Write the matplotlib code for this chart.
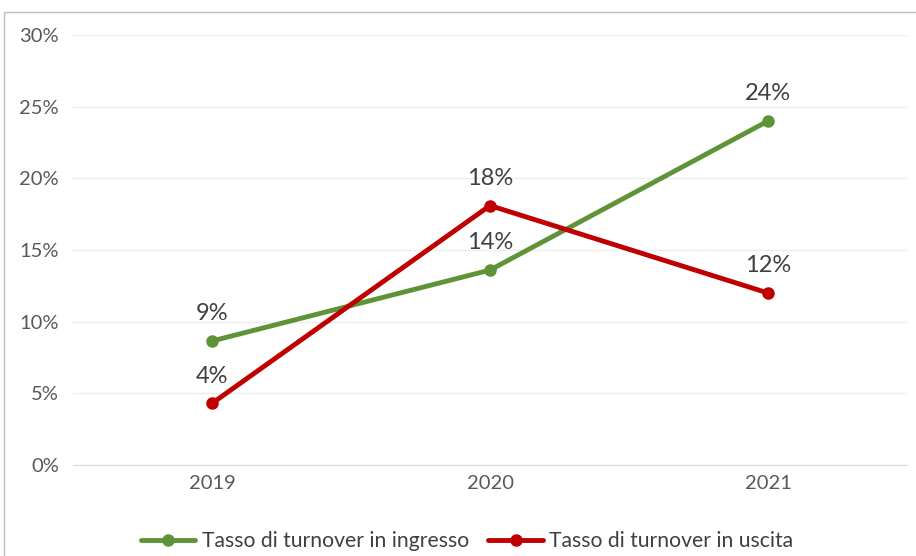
import matplotlib.pyplot as plt
from matplotlib.patches import Rectangle
from matplotlib.ticker import PercentFormatter

plt.rcParams['font.family'] = ['Lato', 'DejaVu Sans']

years = ["2019", "2020", "2021"]
ingresso = [8.65, 13.6, 24.0]
uscita = [4.3, 18.1, 12.0]
ingresso_labels = ["9%", "14%", "24%"]
uscita_labels = ["4%", "18%", "12%"]

green = "#5E9437"
red = "#C00000"
grey = "#595959"

fig = plt.figure(figsize=(9.16, 5.56), dpi=100)
ax = fig.add_axes([73 / 916, 91 / 556, 834 / 916, 430 / 556])

# chart frame (partly cut at right/bottom in the original)
fig.patches.append(Rectangle((4 / 916, -0.1), 1.2, 1 - 12 / 556 + 0.1,
                             transform=fig.transFigure, fill=False,
                             edgecolor="#BFBFBF", linewidth=1))

x = range(len(years))
ax.plot(x, ingresso, color=green, linewidth=3.5, marker="o", markersize=8,
        label="Tasso di turnover in ingresso", solid_capstyle="round")
ax.plot(x, uscita, color=red, linewidth=3.5, marker="o", markersize=8,
        label="Tasso di turnover in uscita", solid_capstyle="round")

for xi, v, t in zip(x, ingresso, ingresso_labels):
    ax.annotate(t, (xi, v), xytext=(0, 12), textcoords="offset points",
                ha="center", va="bottom", fontsize=17, color="#404040")
for xi, v, t in zip(x, uscita, uscita_labels):
    ax.annotate(t, (xi, v), xytext=(0, 12), textcoords="offset points",
                ha="center", va="bottom", fontsize=17, color="#404040")

ax.set_xlim(-0.5, 2.5)
ax.set_ylim(0, 30)
ax.set_yticks(range(0, 31, 5))
ax.yaxis.set_major_formatter(PercentFormatter(decimals=0))
ax.set_xticks(list(x))
ax.set_xticklabels(years)
ax.grid(axis="y", color="#EDEDED", linewidth=1)
ax.set_axisbelow(True)
for s in ["top", "right", "left"]:
    ax.spines[s].set_visible(False)
ax.spines["bottom"].set_color("#D9D9D9")
ax.tick_params(axis="both", length=0, labelsize=14.5, labelcolor=grey)
ax.tick_params(axis="y", pad=10)
ax.tick_params(axis="x", pad=7)

fig.legend(loc="center", bbox_to_anchor=(467 / 916, 1 - 541 / 556), ncol=2,
           frameon=False, fontsize=15.2, labelcolor="#404040",
           handlelength=2.6, columnspacing=0.9, handletextpad=0.3)

fig.savefig("out.png", dpi=100)
